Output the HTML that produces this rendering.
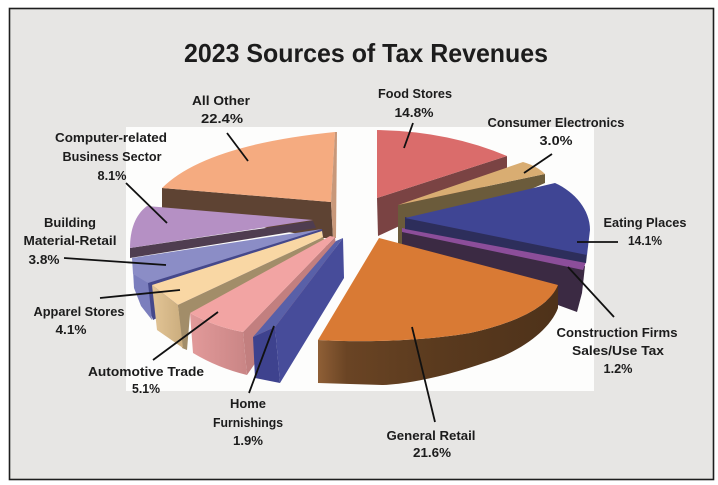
<!DOCTYPE html>
<html><head><meta charset="utf-8"><style>
html,body{margin:0;padding:0;background:#fff;}
svg{display:block;}
text{font-family:"Liberation Sans",Arial,sans-serif;font-weight:bold;fill:#1c1c1c;}
.l{font-size:13px;}
</style></head><body>
<svg width="718" height="485" viewBox="0 0 718 485" xmlns="http://www.w3.org/2000/svg">
<defs>
<linearGradient id="gr" x1="318" y1="0" x2="558" y2="0" gradientUnits="userSpaceOnUse">
<stop offset="0" stop-color="#8f5f36"/><stop offset="0.12" stop-color="#6a4424"/><stop offset="0.5" stop-color="#5a3a1e"/><stop offset="1" stop-color="#4e321a"/>
</linearGradient>
<linearGradient id="ap" x1="152" y1="0" x2="185" y2="0" gradientUnits="userSpaceOnUse">
<stop offset="0" stop-color="#e3c596"/><stop offset="1" stop-color="#c9ab7c"/>
</linearGradient>
<linearGradient id="au" x1="190" y1="0" x2="247" y2="0" gradientUnits="userSpaceOnUse">
<stop offset="0" stop-color="#e29a9a"/><stop offset="1" stop-color="#c98585"/>
</linearGradient>
</defs>
<rect width="718" height="485" fill="#fff"/>
<rect x="9.5" y="8.5" width="704" height="471" fill="#e7e6e4" stroke="#1e1e1e" stroke-width="1.6"/>
<rect x="126" y="127" width="468" height="264" fill="#fdfdfc"/>

<!-- All Other -->
<polygon points="162,188 331,202 333,238 320,238 162,208" fill="#5e4333"/>
<path d="M162,188 Q205,145 335,132 L331,202 Z" fill="#f5ab80"/>
<polygon points="331,202 335,132 337,132 336,238 333,238" fill="#c8987a"/>

<!-- Food Stores -->
<polygon points="377,198 507,156 507,176 378,236" fill="#7a4343"/>
<path d="M377,130 Q448,131 507,156 L377,198 Z" fill="#da6c6b"/>

<!-- Consumer Electronics -->
<polygon points="398,205 545,174 545,183 398,247" fill="#6b5b3b"/>
<path d="M398,205 L523,162 Q537,166 545,174 Z" fill="#d9ad72"/>

<!-- Construction -->
<polygon points="402,231 585,266 582,293 577,312 402,248" fill="#3b2a43"/>
<polygon points="402,228 586,262 583,270 402,232" fill="#8c4e9a"/>

<!-- Eating Places -->
<polygon points="405,217 587,254 586,263 405,229" fill="#2d2e5b"/>
<path d="M405,218 L555,183 C575,192 590,210 590,230 L587,255 Z" fill="#3f4594"/>

<!-- General Retail -->
<path d="M318,340 C370,343 430,340 470,333 C520,322 550,305 558,285 L558,308 C550,330 520,352 487,362 C450,375 410,384 383,385 L318,383 Z" fill="url(#gr)"/>
<path d="M379,238 L558,285 C550,305 520,322 470,333 C430,340 370,343 318,340 Z" fill="#d97a34"/>

<!-- Computer-related -->
<polygon points="130,248 313,221 316,228 130,258" fill="#4f3d50"/>
<path d="M130,248 C130,230 135,215 147,206 L313,220 Z" fill="#b590c4"/>

<!-- Building Material -->
<polygon points="145,281 322,229 323,236 153,320 146,300" fill="#45488b"/>
<polygon points="133,270 148,283 152,320 141,306 134,288" fill="#7b7ebd"/>
<polygon points="132,258 322,229 148,283 133,274" fill="#8b8dc6"/>

<!-- Apparel -->
<polygon points="178,305 323,237 327,246 190,314 187,350 182,348" fill="#a28d69"/>
<polygon points="152,285 178,305 183,348 157,330" fill="url(#ap)"/>
<polygon points="152,285 322,231 323,237 178,305" fill="#f9d7a4"/>

<!-- Automotive -->
<polygon points="243,332 335,237 336,247 247,375" fill="#c27f7f"/>
<path d="M190,313 Q215,327 243,332 L247,375 Q218,368 193,353 Z" fill="url(#au)"/>
<path d="M190,313 Q215,327 243,332 L335,237 L330,236 Z" fill="#f2a4a3"/>

<!-- Home Furnishings -->
<polygon points="275,327 343,238 344,278 280,383" fill="#474c9a"/>
<polygon points="253,337 275,327 280,383 255,378" fill="#3e428e"/>
<polygon points="253,337 275,327 343,238 336,241" fill="#5960a8"/>

<!-- leader lines -->
<g stroke="#111" stroke-width="1.8" fill="none">
<line x1="227" y1="133" x2="248" y2="161"/>
<line x1="413" y1="123" x2="404" y2="148"/>
<line x1="552" y1="154" x2="524" y2="173"/>
<line x1="126" y1="183" x2="167" y2="223"/>
<line x1="64" y1="258" x2="166" y2="265"/>
<line x1="100" y1="298" x2="180" y2="290"/>
<line x1="153" y1="360" x2="218" y2="312"/>
<line x1="249" y1="393" x2="274" y2="326"/>
<line x1="412" y1="327" x2="435" y2="422"/>
<line x1="568" y1="267" x2="614" y2="317"/>
<line x1="577" y1="242" x2="618" y2="242"/>
</g>

<!-- title -->
<text x="366" y="62" font-size="26" text-anchor="middle" textLength="364" lengthAdjust="spacingAndGlyphs">2023 Sources of Tax Revenues</text>

<!-- labels -->
<g class="l" text-anchor="middle">
<text x="221" y="105" textLength="58" lengthAdjust="spacingAndGlyphs">All Other</text>
<text x="222" y="123" textLength="42" lengthAdjust="spacingAndGlyphs">22.4%</text>
<text x="415" y="98" textLength="74" lengthAdjust="spacingAndGlyphs">Food Stores</text>
<text x="414" y="117" textLength="39" lengthAdjust="spacingAndGlyphs">14.8%</text>
<text x="556" y="127" textLength="137" lengthAdjust="spacingAndGlyphs">Consumer  Electronics</text>
<text x="556" y="145" textLength="33" lengthAdjust="spacingAndGlyphs">3.0%</text>
<text x="111" y="142" textLength="112" lengthAdjust="spacingAndGlyphs">Computer-related</text>
<text x="112" y="161" textLength="99" lengthAdjust="spacingAndGlyphs">Business Sector</text>
<text x="112" y="180" textLength="29" lengthAdjust="spacingAndGlyphs">8.1%</text>
<text x="70" y="227" textLength="52" lengthAdjust="spacingAndGlyphs">Building</text>
<text x="70" y="245" textLength="93" lengthAdjust="spacingAndGlyphs">Material-Retail</text>
<text x="44" y="264" textLength="31" lengthAdjust="spacingAndGlyphs">3.8%</text>
<text x="79" y="316" textLength="91" lengthAdjust="spacingAndGlyphs">Apparel Stores</text>
<text x="71" y="334" textLength="31" lengthAdjust="spacingAndGlyphs">4.1%</text>
<text x="146" y="376" textLength="116" lengthAdjust="spacingAndGlyphs">Automotive  Trade</text>
<text x="146" y="393" textLength="28" lengthAdjust="spacingAndGlyphs">5.1%</text>
<text x="248" y="408" textLength="36" lengthAdjust="spacingAndGlyphs">Home</text>
<text x="248" y="427" textLength="70" lengthAdjust="spacingAndGlyphs">Furnishings</text>
<text x="248" y="445" textLength="30" lengthAdjust="spacingAndGlyphs">1.9%</text>
<text x="431" y="440" textLength="89" lengthAdjust="spacingAndGlyphs">General  Retail</text>
<text x="432" y="457" textLength="38" lengthAdjust="spacingAndGlyphs">21.6%</text>
<text x="645" y="227" textLength="83" lengthAdjust="spacingAndGlyphs">Eating  Places</text>
<text x="645" y="245" textLength="34" lengthAdjust="spacingAndGlyphs">14.1%</text>
<text x="617" y="337" textLength="121" lengthAdjust="spacingAndGlyphs">Construction  Firms</text>
<text x="618" y="355" textLength="92" lengthAdjust="spacingAndGlyphs">Sales/Use  Tax</text>
<text x="618" y="373" textLength="29" lengthAdjust="spacingAndGlyphs">1.2%</text>
</g>
</svg>
</body></html>
